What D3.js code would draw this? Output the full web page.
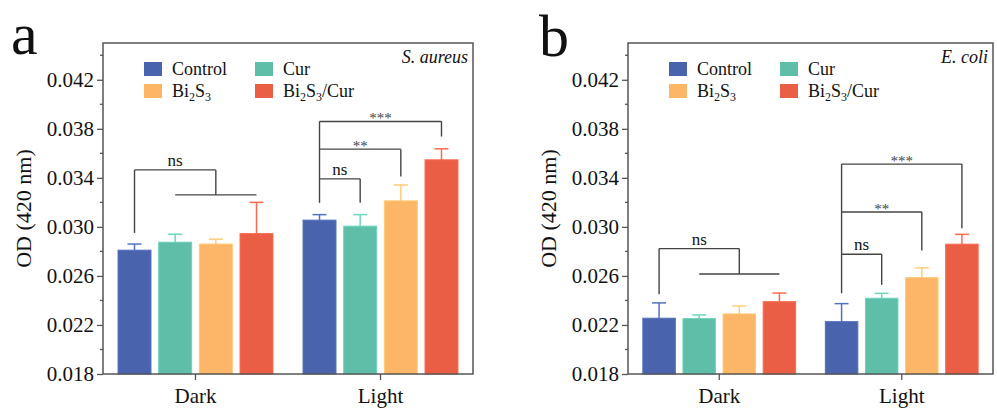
<!DOCTYPE html>
<html lang="en">
<head>
<meta charset="utf-8">
<title>OD 420 nm</title>
<script src="https://cdn.jsdelivr.net/npm/d3@7"></script>
</head>
<body style="margin:0;background:#fff">
<div id="chart"></div>
<script>
// data
var groups = ["Dark", "Light"];
var series = ["Control", "Cur", "Bi2S3", "Bi2S3/Cur"];
var colors = ["#4a63ad", "#5fbea7", "#fdb567", "#e95e45"];
var yTicks = [0.018, 0.022, 0.026, 0.030, 0.034, 0.038, 0.042];

// S. aureus, [Dark, Light] x series
var aureusMean = [[0.0281, 0.02875, 0.0286, 0.02945], [0.03055, 0.03006, 0.03212, 0.03547]];
var aureusErr  = [[0.0005, 0.00065, 0.0004, 0.00255], [0.00045, 0.00094, 0.0013, 0.0009]];
// E. coli
var coliMean = [[0.02255, 0.02252, 0.0229, 0.0239], [0.02227, 0.02418, 0.02586, 0.02859]];
var coliErr  = [[0.00125, 0.0003, 0.00065, 0.0007], [0.00147, 0.0004, 0.0008, 0.0008]];

// significance brackets: dark = control vs the rest, light = control vs each
var aureusDarkBracket = {top: 0.03465, leftEnd: 0.02951, lineY: 0.03261, label: "ns"};
var aureusLightBrackets = [
  {to: 1, top: 0.03392, rightEnd: 0.03196, label: "ns"},
  {to: 2, top: 0.03634, rightEnd: 0.03411, label: "**"},
  {to: 3, top: 0.0386,  rightEnd: 0.03737, label: "***"}
];
var aureusLightLeftEnd = 0.03196;

var coliDarkBracket = {top: 0.02823, leftEnd: 0.02451, lineY: 0.02616, label: "ns"};
var coliLightBrackets = [
  {to: 1, top: 0.02777, rightEnd: 0.02527, label: "ns"},
  {to: 2, top: 0.03122, rightEnd: 0.02807, label: "**"},
  {to: 3, top: 0.03512, rightEnd: 0.02989, label: "***"}
];
var coliLightLeftEnd = 0.02459;

var FONT = 'Liberation Serif';
var svg = d3.select('#chart').append('svg').attr('width', 997).attr('height', 414);

function drawPanel(p) {
  var g = svg.append('g');
  var top = 43, bottom = 374;

  var y = d3.scaleLinear().domain([0.018, 0.045]).range([bottom, top]);
  var x0 = d3.scaleBand().domain(groups).range([p.left, p.right]).padding(0);
  var x1 = d3.scaleBand().domain(d3.range(series.length)).range([0, x0.bandwidth()])
    .paddingInner(0.19).paddingOuter(0.37);
  var cx = function(gi, si) { return x0(groups[gi]) + x1(si) + x1.bandwidth() / 2; };

  // bars
  p.mean.forEach(function(row, gi) {
    row.forEach(function(v, si) {
      var c = colors[si];
      var xl = x0(groups[gi]) + x1(si);
      var xc = cx(gi, si);
      var ec = d3.color(c).brighter(0.35).formatHex();
      var yt = y(v + p.err[gi][si]);
      g.append('line').attr('x1', xc).attr('x2', xc).attr('y1', y(v)).attr('y2', yt)
        .attr('stroke', ec).attr('stroke-width', 1.5);
      g.append('line').attr('x1', xc - 7).attr('x2', xc + 7).attr('y1', yt).attr('y2', yt)
        .attr('stroke', ec).attr('stroke-width', 1.5);
      g.append('rect').attr('x', xl).attr('y', y(v))
        .attr('width', x1.bandwidth()).attr('height', bottom - y(v))
        .attr('fill', c).attr('stroke', d3.color(c).brighter(0.3).formatHex()).attr('stroke-width', 1);
    });
  });

  // frame
  g.append('rect').attr('x', p.left).attr('y', top).attr('width', p.right - p.left).attr('height', bottom - top)
    .attr('fill', 'none').attr('stroke', '#555').attr('stroke-width', 1.5);

  // y axis
  var yAxis = d3.axisLeft(y).tickValues(yTicks).tickFormat(d3.format('.3f')).tickSize(6).tickPadding(3);
  var ya = g.append('g').attr('transform', 'translate(' + p.left + ',0)').call(yAxis);
  ya.attr('font-family', FONT).attr('font-size', 21);
  ya.select('.domain').remove();
  ya.selectAll('line').attr('stroke', '#555').attr('stroke-width', 1.3);
  ya.selectAll('text').attr('font-family', FONT).attr('font-size', 21).attr('fill', '#111');
  var minor = yTicks.map(function(t) { return t + 0.002; });
  g.selectAll(null).data(minor).enter().append('line')
    .attr('x1', p.left - 3).attr('x2', p.left).attr('y1', y).attr('y2', y)
    .attr('stroke', '#555').attr('stroke-width', 1.3);

  // x axis
  var xa = g.append('g').attr('transform', 'translate(0,' + bottom + ')')
    .call(d3.axisBottom(x0).tickSize(6).tickPadding(8));
  xa.attr('font-family', FONT).attr('font-size', 21);
  xa.select('.domain').remove();
  xa.selectAll('line').attr('stroke', '#555').attr('stroke-width', 1.3);
  xa.selectAll('text').attr('font-family', FONT).attr('font-size', 21).attr('fill', '#111');

  // y title
  g.append('text').attr('transform', 'translate(' + (p.left - 72) + ',' + ((top + bottom) / 2) + ') rotate(-90)')
    .attr('text-anchor', 'middle').attr('font-family', FONT).attr('font-size', 22).attr('fill', '#111').text('OD (420 nm)');

  // panel letter
  g.append('text').attr('x', p.letterX).attr('y', p.letterY).attr('font-family', FONT)
    .attr('font-size', 60).attr('fill', '#111').text(p.letter);

  // species
  g.append('text').attr('x', p.right - 5).attr('y', 63).attr('text-anchor', 'end').attr('font-family', FONT)
    .attr('font-size', 18).attr('font-style', 'italic').attr('fill', '#111').text(p.species);

  // legend
  series.forEach(function(s, i) {
    var lx = p.left + 41 + (i % 2) * 111;
    var ly = 62 + Math.floor(i / 2) * 22;
    g.append('rect').attr('x', lx).attr('y', ly).attr('width', 18).attr('height', 14).attr('fill', colors[i]);
    var t = g.append('text').attr('x', lx + 28).attr('y', ly + 13).attr('font-family', FONT)
      .attr('font-size', 18).attr('fill', '#111');
    if (s.indexOf('Bi2S3') === 0) {
      t.append('tspan').text('Bi');
      t.append('tspan').attr('font-size', 12).attr('dy', 4).text('2');
      t.append('tspan').attr('dy', -4).text('S');
      t.append('tspan').attr('font-size', 12).attr('dy', 4).text('3');
      t.append('tspan').attr('dy', -4).text(s.slice(5));
    } else {
      t.text(s);
    }
  });

  // brackets
  var stroke = '#444';
  function seg(x1_, y1_, x2_, y2_) {
    g.append('line').attr('x1', x1_).attr('y1', y1_).attr('x2', x2_).attr('y2', y2_)
      .attr('stroke', stroke).attr('stroke-width', 1.4);
  }
  function label(txt, x, yy) {
    var star = txt.indexOf('*') === 0;
    g.append('text').attr('x', x).attr('y', star ? yy + 2 : yy - 4).attr('text-anchor', 'middle')
      .attr('font-family', FONT).attr('font-size', star ? 15 : 17)
      .attr('fill', star ? '#444' : '#111').text(txt);
  }

  var d = p.darkBracket;
  var xa0 = cx(0, 0), xs = cx(0, 1), xe = cx(0, 3), xm = (xs + xe) / 2;
  seg(xa0, y(d.leftEnd), xa0, y(d.top));
  seg(xa0, y(d.top), xm, y(d.top));
  seg(xm, y(d.top), xm, y(d.lineY));
  seg(xs, y(d.lineY), xe, y(d.lineY));
  label(d.label, (xa0 + xm) / 2, y(d.top));

  var xl0 = cx(1, 0);
  var maxTop = d3.max(p.lightBrackets, function(b) { return b.top; });
  seg(xl0, y(p.lightLeftEnd), xl0, y(maxTop));
  p.lightBrackets.forEach(function(b) {
    var xr = cx(1, b.to);
    seg(xl0, y(b.top), xr, y(b.top));
    seg(xr, y(b.top), xr, y(b.rightEnd));
    label(b.label, (xl0 + xr) / 2, y(b.top));
  });
}

drawPanel({left: 103, right: 473, mean: aureusMean, err: aureusErr, species: 'S. aureus',
  letter: 'a', letterX: 11, letterY: 54, darkBracket: aureusDarkBracket,
  lightBrackets: aureusLightBrackets, lightLeftEnd: aureusLightLeftEnd});
drawPanel({left: 628, right: 993, mean: coliMean, err: coliErr, species: 'E. coli',
  letter: 'b', letterX: 539, letterY: 56, darkBracket: coliDarkBracket,
  lightBrackets: coliLightBrackets, lightLeftEnd: coliLightLeftEnd});
</script>
</body>
</html>
